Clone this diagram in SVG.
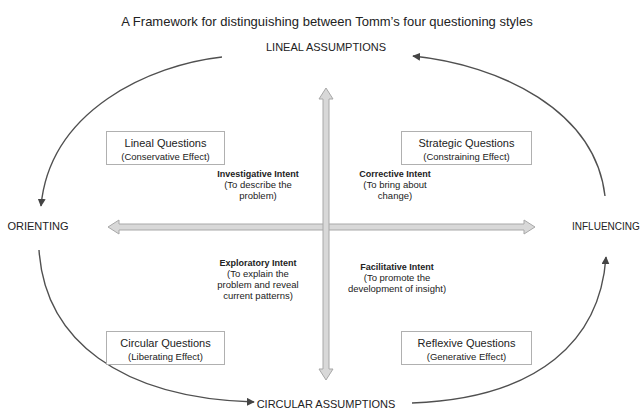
<svg xmlns="http://www.w3.org/2000/svg" width="643" height="411" viewBox="0 0 643 411">
<defs>
<marker id="ah" viewBox="0 0 10 10" refX="9" refY="5" markerWidth="8" markerHeight="8" markerUnits="userSpaceOnUse" orient="auto">
<path d="M0,0 L10,5 L0,10 z" fill="#444"/>
</marker>
<style>
text{font-family:"Liberation Sans",Arial,sans-serif;fill:#222;text-anchor:middle}
.title{font-size:13px}
.cap{font-size:11px}
.bq{font-size:11px}
.be{font-size:9.5px}
.ib{font-size:9px;font-weight:bold}
.in{font-size:9.5px}
.box{fill:#fff;stroke:#b0b0b0;stroke-width:1}
.arc{fill:none;stroke:#505050;stroke-width:1.4}
.dbl{fill:#d8d8d8;stroke:#a8a8a8;stroke-width:1}
</style>
</defs>
<rect width="643" height="411" fill="#fff"/>
<text class="title" x="327" y="26">A Framework for distinguishing between Tomm’s four questioning styles</text>

<g id="lineal-assumptions"><text class="cap" x="326" y="51">LINEAL ASSUMPTIONS</text></g>
<g id="circular-assumptions"><text class="cap" x="326" y="408">CIRCULAR ASSUMPTIONS</text></g>
<g id="orienting"><text class="cap" x="38" y="230">ORIENTING</text></g>
<g id="influencing"><text x="572" y="230" style="text-anchor:start;font-size:10px">INFLUENCING</text></g>

<g id="connectors">
<path class="arc" d="M222,57 C150,65 50,110 41,206" marker-end="url(#ah)"/>
<path class="arc" d="M605,196 C595,110 500,65 413,56" marker-end="url(#ah)"/>
<path class="arc" d="M39,250 C45,340 120,398 254,402" marker-end="url(#ah)"/>
<path class="arc" d="M412,403 C540,398 600,340 606,257" marker-end="url(#ah)"/>
<path class="dbl" d="M108,227 L119,220 L119,224 L524,224 L524,220 L535,227 L524,234 L524,230 L119,230 L119,234 Z"/>
<path class="dbl" d="M326,88 L333,99 L329,99 L329,369 L333,369 L326,380 L319,369 L323,369 L323,99 L319,99 Z"/>
</g>

<g id="lineal-questions">
<rect class="box" x="106.5" y="131.5" width="118" height="33"/>
<text class="bq" x="165.5" y="147">Lineal Questions</text>
<text class="be" x="165.5" y="160">(Conservative Effect)</text>
</g>
<g id="strategic-questions">
<rect class="box" x="401.5" y="131.5" width="130" height="33"/>
<text class="bq" x="466.5" y="147">Strategic Questions</text>
<text class="be" x="466.5" y="160">(Constraining Effect)</text>
</g>
<g id="circular-questions">
<rect class="box" x="106.5" y="331.5" width="118" height="33"/>
<text class="bq" x="165.5" y="347">Circular Questions</text>
<text class="be" x="165.5" y="360">(Liberating Effect)</text>
</g>
<g id="reflexive-questions">
<rect class="box" x="401.5" y="331.5" width="130" height="33"/>
<text class="bq" x="466.5" y="347">Reflexive Questions</text>
<text class="be" x="466.5" y="360">(Generative Effect)</text>
</g>

<g id="investigative-intent">
<text class="ib" x="258" y="177">Investigative Intent</text>
<text class="in" x="258" y="188">(To describe the</text>
<text class="in" x="258" y="199">problem)</text>
</g>
<g id="corrective-intent">
<text class="ib" x="395" y="177">Corrective Intent</text>
<text class="in" x="395" y="188">(To bring about</text>
<text class="in" x="395" y="199">change)</text>
</g>
<g id="exploratory-intent">
<text class="ib" x="258" y="266">Exploratory Intent</text>
<text class="in" x="258" y="277">(To explain the</text>
<text class="in" x="258" y="288">problem and reveal</text>
<text class="in" x="258" y="299">current patterns)</text>
</g>
<g id="facilitative-intent">
<text class="ib" x="397" y="270">Facilitative Intent</text>
<text class="in" x="397" y="281">(To promote the</text>
<text class="in" x="397" y="292">development of insight)</text>
</g>
</svg>
